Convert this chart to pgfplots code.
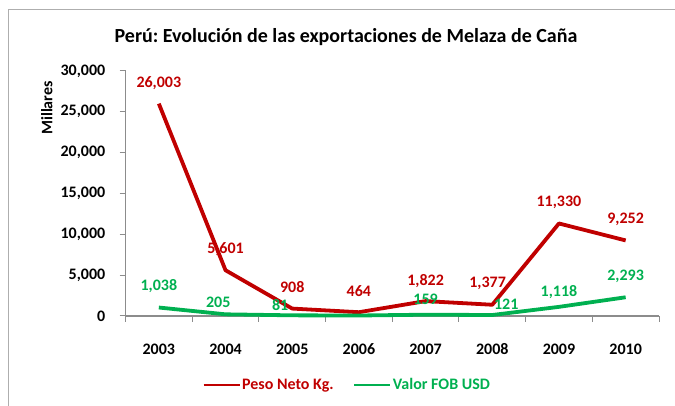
\documentclass[border=0pt]{standalone}
\usepackage{fontspec}
\setmainfont{Carlito}
\usepackage{pgfplots}
\pgfplotsset{compat=1.18}
\definecolor{cred}{HTML}{C00000}
\definecolor{cgreen}{HTML}{00B050}
\definecolor{cgray}{HTML}{8C8C8C}
\frenchspacing
\pgfplotstableread{
x y lab
0 28494 26,003
1 8204 5,601
2 3588 908
3 3061 464
4 4322 1,822
4.93 4004 1,377
6 13923 11,330
7 11878 9,252
}\redlabels
\pgfplotstableread{
x y lab
0 3674 1,038
0.89 1629 205
1.82 1347 81
4 2045 159
5.21 1433 121
6 2976 1,118
7 4898 2,293
}\greenlabels
\begin{document}
\begin{tikzpicture}[x=1pt,y=1pt]
\path[use as bounding box] (0,0) rectangle (675,406);
\draw[cgray!70, line width=1pt] (8.3,0) -- (8.3,396.7) -- (675,396.7);
\node[font=\fontsize{20}{24}\selectfont\bfseries] at (346,369) {Perú: Evolución de las exportaciones de Melaza de Caña};
\node[rotate=90, font=\fontsize{16}{19}\selectfont\bfseries] at (46.7,298) {Millares};
\begin{axis}[
  at={(125.5pt,90pt)}, anchor=south west, scale only axis,
  width=533.5pt, height=245pt,
  xmin=-0.5, xmax=7.5, ymin=0, ymax=30000,
  scaled y ticks=false,
  axis lines=left,
  axis line style={cgray, line width=1.2pt, -},
  clip=false,
  tick align=outside,
  xtick={0,...,7},
  xticklabels={2003,2004,2005,2006,2007,2008,2009,2010},
  major x tick style={draw=none},
  minor xtick={-0.5,0.5,...,7.5},
  minor tick length=6pt,
  major tick length=6pt,
  minor x tick style={cgray, line width=1pt},
  major y tick style={cgray, line width=1pt},
  ytick={0,5000,10000,15000,20000,25000,30000},
  yticklabels={0,{5,000},{10,000},{15,000},{20,000},{25,000},{30,000}},
  /pgf/number format/assume math mode=true,
  xticklabel style={font=\fontsize{16}{19}\selectfont\bfseries, anchor=center, yshift=-27pt},
  yticklabel style={font=\fontsize{16}{19}\selectfont\bfseries, anchor=east, inner sep=0pt, xshift=-14pt},
  legend style={at={(0.416,-0.2816)}, anchor=center, draw=none, fill=none,
    legend columns=2, font=\fontsize{16}{19}\selectfont\bfseries,
    /tikz/every even column/.append style={column sep=18pt}},
  legend image code/.code={\draw[#1, line width=1.2pt] (0pt,0pt) -- (36pt,0pt);},
]
\addplot[cred, line width=3.8pt, line join=round, mark=none] coordinates {(0,26003)(1,5601)(2,908)(3,464)(4,1822)(5,1377)(6,11330)(7,9252)};
\addlegendentry{\textcolor{cred}{Peso Neto Kg.}}
\addplot[cgreen, line width=3.8pt, line join=round, mark=none] coordinates {(0,1038)(1,205)(2,81)(3,60)(4,159)(5,121)(6,1118)(7,2293)};
\addlegendentry{\textcolor{cgreen}{Valor FOB USD}}
\addplot[forget plot, draw=none, mark=none, nodes near coords, point meta=explicit symbolic,
  every node near coord/.append style={anchor=center, text=cred, inner sep=0pt, font=\fontsize{16}{19}\selectfont\bfseries}]
  table[x=x, y=y, meta=lab] {\redlabels};
\addplot[forget plot, draw=none, mark=none, nodes near coords, point meta=explicit symbolic,
  every node near coord/.append style={anchor=center, text=cgreen, inner sep=0pt, font=\fontsize{16}{19}\selectfont\bfseries}]
  table[x=x, y=y, meta=lab] {\greenlabels};
\end{axis}
\end{tikzpicture}
\end{document}
